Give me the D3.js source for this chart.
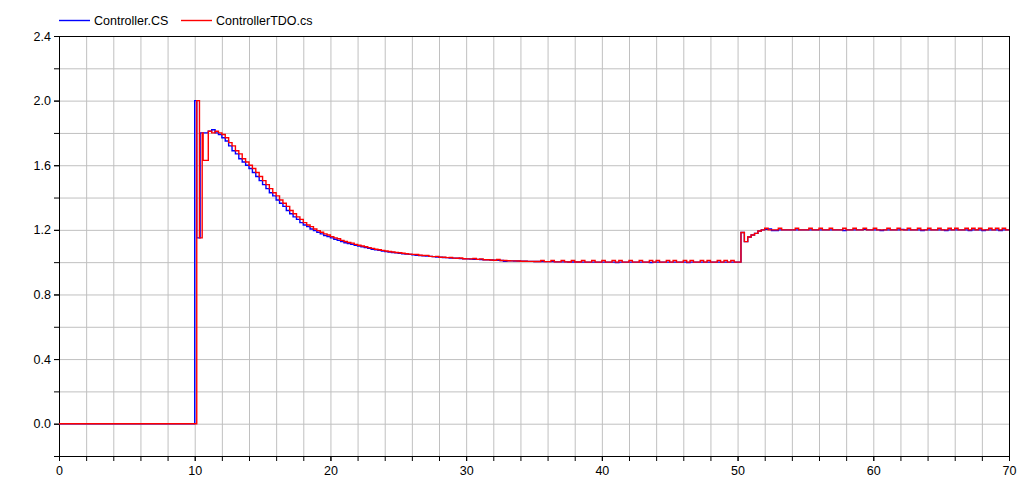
<!DOCTYPE html>
<html>
<head>
<meta charset="utf-8">
<script src="https://cdn.jsdelivr.net/npm/d3@7"></script>
<style>
  body { margin: 0; background: #fff; }
  text { font-family: "Liberation Sans", Arial, sans-serif; }
</style>
</head>
<body>
<div id="chart-area"></div>
<script>
const canvas_width = 1034;
const canvas_height = 481;
const margin = { left: 59, top: 36 };
const plot_width = 950;
const plot_height = 420;

const series_names = ['Controller.CS', 'ControllerTDO.cs'];
const series_colors = ['#0000ff', '#ff0000'];

const x_domain = [0, 70];
const y_domain = [-0.2, 2.4];
const x_label_ticks = [0, 10, 20, 30, 40, 50, 60, 70];
const y_label_ticks = [0.0, 0.4, 0.8, 1.2, 1.6, 2.0, 2.4];

// irregular start of each signal: change times and values
const cs_head_times = [0, 10.0, 10.15, 10.4];
const cs_head_values = [0, 2.0, 1.15, 1.8];
const tdo_head_times = [0, 10.15, 10.35, 10.55, 10.62];
const tdo_head_values = [0, 2.0, 1.15, 1.8, 1.63];

// sampled part, one value every sample_step from tail_start
const tail_start = 11.0;
const sample_step = 0.25;

const cs_tail = [
  1.81, 1.82, 1.80, 1.79,
  1.77, 1.75, 1.72, 1.69,
  1.67, 1.64, 1.62, 1.60,
  1.58, 1.555, 1.53, 1.505,
  1.48, 1.455, 1.43, 1.41,
  1.385, 1.365, 1.345, 1.32,
  1.30, 1.28, 1.265, 1.245,
  1.23, 1.22, 1.205, 1.195,
  1.185, 1.175, 1.165, 1.158,
  1.15, 1.142, 1.135, 1.128,
  1.12, 1.115, 1.11, 1.105,
  1.10, 1.095, 1.09, 1.085,
  1.08, 1.077, 1.073, 1.069,
  1.065, 1.063, 1.06, 1.058,
  1.055, 1.052, 1.05, 1.048,
  1.045, 1.043, 1.041, 1.04,
  1.038, 1.036, 1.034, 1.032,
  1.03, 1.029, 1.028, 1.026,
  1.025, 1.024, 1.022, 1.021,
  1.02, 1.019, 1.018, 1.017,
  1.016, 1.015, 1.014, 1.013,
  1.012, 1.011, 1.01, 1.005,
  1.008, 1.008, 1.007, 1.007,
  1.006, 1.006, 1.005, 1.005,
  1.004, 1.004, 1.004, 1.003,
  1.003, 1.003, 1.002, 1.002,
  1.002, 1.002, 1.001, 1.001,
  1.001, 1.001, 1.0, 1.0,
  1.0, 1.0, 1.0, 1.0,
  1.0, 1.0, 1.0, 1.0,
  0.998, 1.0, 1.0, 1.0,
  1.0, 1.0, 1.0, 1.0,
  1.0, 1.0, 0.998, 1.0,
  1.0, 1.0, 1.0, 1.0,
  1.0, 1.0, 1.0, 1.0,
  1.0, 0.998, 1.0, 1.0,
  1.0, 1.0, 1.0, 1.0,
  1.0, 1.0, 1.0, 1.0,
  1.0, 1.0, 1.0, 1.0,
  1.0, 1.184, 1.127, 1.156,
  1.168, 1.178, 1.193, 1.2,
  1.203, 1.205, 1.196, 1.196,
  1.2, 1.2, 1.2, 1.2,
  1.2, 1.2, 1.2, 1.2,
  1.2, 1.2, 1.2, 1.2,
  1.2, 1.2, 1.2, 1.2,
  1.2, 1.2, 1.2, 1.196,
  1.2, 1.2, 1.2, 1.2,
  1.2, 1.203, 1.2, 1.2,
  1.2, 1.2, 1.196, 1.2,
  1.2, 1.2, 1.2, 1.2,
  1.203, 1.2, 1.2, 1.2,
  1.2, 1.2, 1.196, 1.2,
  1.2, 1.2, 1.2, 1.2,
  1.2, 1.196, 1.2, 1.2,
  1.2, 1.2, 1.2, 1.2,
  1.196, 1.2, 1.2, 1.2,
  1.196, 1.2, 1.2, 1.2,
  1.2, 1.196, 1.2, 1.2
];

const tdo_tail = [
  1.81, 1.80, 1.81, 1.80,
  1.79, 1.77, 1.74, 1.72,
  1.69, 1.67, 1.64, 1.62,
  1.60, 1.58, 1.555, 1.53,
  1.505, 1.48, 1.455, 1.43,
  1.41, 1.385, 1.365, 1.345,
  1.32, 1.30, 1.28, 1.265,
  1.245, 1.23, 1.22, 1.205,
  1.195, 1.185, 1.175, 1.168,
  1.158, 1.15, 1.145, 1.135,
  1.128, 1.122, 1.118, 1.11,
  1.105, 1.10, 1.095, 1.09,
  1.085, 1.08, 1.077, 1.073,
  1.069, 1.066, 1.063, 1.06,
  1.058, 1.055, 1.052, 1.05,
  1.048, 1.047, 1.043, 1.041,
  1.042, 1.036, 1.034, 1.036,
  1.03, 1.03, 1.028, 1.029,
  1.025, 1.024, 1.026, 1.021,
  1.02, 1.02, 1.023, 1.017,
  1.02, 1.015, 1.015, 1.013,
  1.012, 1.016, 1.01, 1.01,
  1.009, 1.008, 1.008, 1.007,
  1.006, 1.006, 1.005, 1.005,
  1.004, 1.004, 1.01, 1.003,
  1.003, 1.01, 1.002, 1.002,
  1.01, 1.002, 1.001, 1.01,
  1.001, 1.001, 1.01, 1.0,
  1.0, 1.01, 1.0, 1.0,
  1.01, 1.0, 1.0, 1.01,
  1.0, 1.01, 1.0, 1.0,
  1.01, 1.0, 1.0, 1.01,
  1.0, 1.0, 1.01, 1.0,
  1.01, 1.0, 1.0, 1.01,
  1.0, 1.01, 1.0, 1.0,
  1.01, 1.0, 1.01, 1.0,
  1.0, 1.01, 1.0, 1.01,
  1.0, 1.0, 1.01, 1.0,
  1.01, 1.0, 1.01, 1.0,
  1.0, 1.184, 1.127, 1.156,
  1.168, 1.178, 1.193, 1.2,
  1.21, 1.2, 1.2, 1.2,
  1.21, 1.2, 1.2, 1.2,
  1.2, 1.21, 1.2, 1.2,
  1.2, 1.21, 1.2, 1.2,
  1.21, 1.2, 1.2, 1.21,
  1.2, 1.2, 1.2, 1.21,
  1.2, 1.2, 1.21, 1.2,
  1.2, 1.21, 1.2, 1.2,
  1.21, 1.2, 1.2, 1.2,
  1.21, 1.2, 1.2, 1.21,
  1.2, 1.2, 1.21, 1.2,
  1.2, 1.21, 1.2, 1.2,
  1.21, 1.2, 1.2, 1.21,
  1.2, 1.2, 1.21, 1.2,
  1.21, 1.2, 1.2, 1.21,
  1.2, 1.21, 1.2, 1.21,
  1.2, 1.2, 1.21, 1.2,
  1.21, 1.2, 1.21, 1.2
];

function buildSeries(headTimes, headValues, tail) {
  let pts = headTimes.map((t, i) => ({ t: t, v: headValues[i] }));
  tail.forEach((v, i) => { pts.push({ t: tail_start + i * sample_step, v: v }); });
  pts.push({ t: x_domain[1], v: tail[tail.length - 1] });
  return pts;
}

const series = [
  buildSeries(cs_head_times, cs_head_values, cs_tail),
  buildSeries(tdo_head_times, tdo_head_values, tdo_tail)
];

let canvas = d3.select('#chart-area').append('svg')
  .attr('width', canvas_width)
  .attr('height', canvas_height);

let group = canvas.append('g').attr('transform', `translate(${margin.left}, ${margin.top})`);

let x = d3.scaleLinear().domain(x_domain).range([0, plot_width]);
let y = d3.scaleLinear().domain(y_domain).range([plot_height, 0]);

const x_minor = d3.range(0, 36).map((i) => i * 2);
const y_minor = d3.range(-1, 13).map((i) => +(i * 0.2).toFixed(1));

// grid
let xGrid = group.append('g')
  .call(d3.axisBottom(x).tickValues(x_minor).tickSize(plot_height).tickFormat(''));
let yGrid = group.append('g')
  .call(d3.axisRight(y).tickValues(y_minor).tickSize(plot_width).tickFormat(''));
[xGrid, yGrid].forEach((g) => {
  g.select('.domain').remove();
  g.selectAll('line').attr('stroke', '#c0c0c0');
});

// frame
group.append('rect')
  .attr('x', 0.5).attr('y', 0.5)
  .attr('width', plot_width).attr('height', plot_height)
  .attr('fill', 'none').attr('stroke', '#000');

// axes
group.append('g')
  .attr('transform', `translate(0, ${plot_height})`)
  .call(d3.axisBottom(x).tickValues(x_minor).tickSize(5).tickFormat(''));
group.append('g')
  .attr('transform', `translate(0, ${plot_height})`)
  .call(d3.axisBottom(x).tickValues(x_label_ticks).tickSize(5).tickPadding(5).tickFormat(d3.format('d')));
group.append('g')
  .call(d3.axisLeft(y).tickValues(y_minor).tickSize(5).tickFormat(''));
group.append('g')
  .call(d3.axisLeft(y).tickValues(y_label_ticks).tickSize(5).tickPadding(3).tickFormat(d3.format('.1f')));

group.selectAll('.tick text')
  .attr('font-size', '12.5px')
  .attr('font-family', '"Liberation Sans", Arial, sans-serif')
  .attr('fill', '#000');

// signals
let line = d3.line()
  .x((d) => x(d.t))
  .y((d) => y(d.v))
  .curve(d3.curveStepAfter);

group.selectAll('path.signal').data(series).enter().append('path')
  .attr('class', 'signal')
  .attr('d', (d) => line(d))
  .attr('fill', 'none')
  .attr('stroke', (d, i) => series_colors[i])
  .attr('stroke-width', 1.4);

// legend
const legend_x = [59, 181];
let legend = canvas.append('g');
series_names.forEach((name, i) => {
  legend.append('line')
    .attr('x1', legend_x[i]).attr('x2', legend_x[i] + 31)
    .attr('y1', 20.5).attr('y2', 20.5)
    .attr('stroke', series_colors[i])
    .attr('stroke-width', 1.4);
  legend.append('text')
    .attr('x', legend_x[i] + 35)
    .attr('y', 25)
    .attr('font-size', '12.5px')
    .attr('fill', '#000')
    .text(name);
});
</script>
</body>
</html>
